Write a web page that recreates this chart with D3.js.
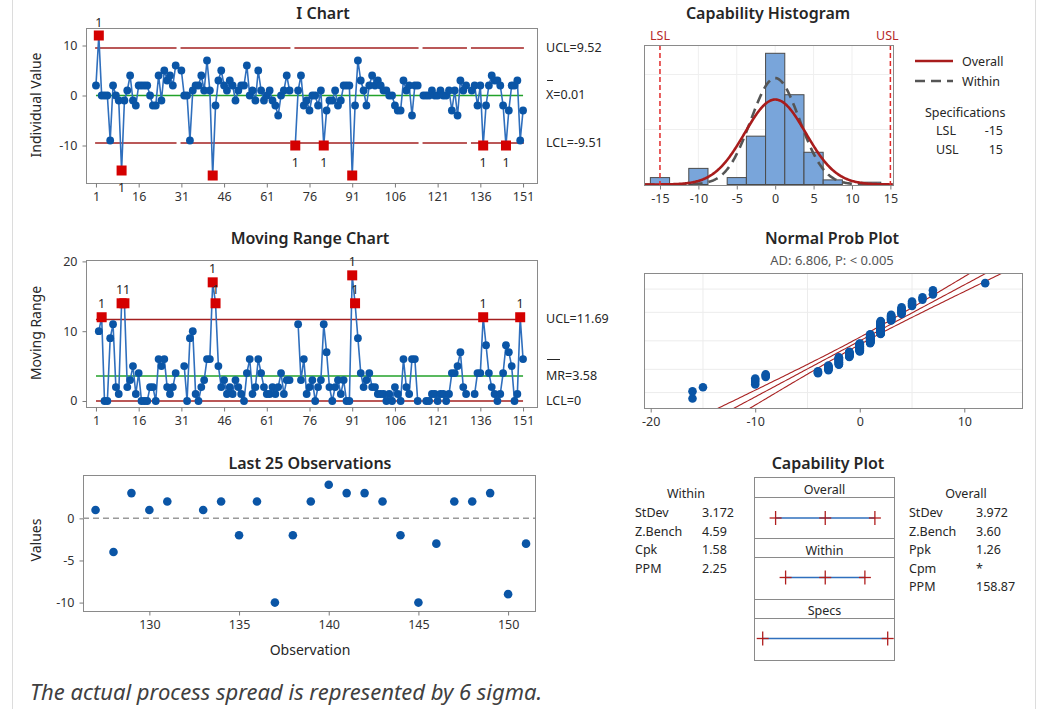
<!DOCTYPE html>
<head>
    <meta charset="utf-8">
    <title>Process Capability Sixpack</title>
    <style>
        body { margin: 0; background: #fff; }
        svg { display: block; font-family: "Noto Sans", "Open Sans", sans-serif; }
        .title { font-size: 16px; font-weight: 600; fill: #262626; text-anchor: middle; }
        .axis line { stroke: #7a7a7a; }
        .axis text { font-size: 12.5px; fill: #333; font-family: "Noto Sans", sans-serif; }
        .lbl { font-size: 12.5px; fill: #262626; }
        .ytitle { font-size: 14px; fill: #262626; text-anchor: middle; }
    </style>
</head>
<body>

<svg width="1043" height="709"></svg>

<script src="https://d3js.org/d3.v7.min.js"></script>

<script>

// ---- data ----
// individual observations 1..151 (null = missing value)
var individuals = [
    2, 12, 0, 0, 0, -9, 2, 0, -1, -15,
    -1, 1, 4, -1, -2, 2, 2, 2, 2, 0,
    -2, -2, 4, -1, 5, 3, 4, 2, 6, null,
    5, 0, 0, -9, 1, 2, 2, 4, 1, 7,
    1, -16, -2, 3, 5, 2, 1, 3, 2, -1,
    1, 2, 2, 6, 0, 1, -1, 5, 1, -1,
    0, 1, -1, -2, -4, 0, 1, 4, 1, null,
    -10, 1, 4, -2, -1, -3, 0, 0, -2, 1,
    -10, -3, -1, -1, 1, -2, -1, 2, 2, 2,
    -16, -2, 7, 3, 1, -2, 2, 4, 2, 3,
    2, 1, 1, 0, 0, -2, -3, -3, 3, 1,
    2, -4, 2, 2, null, 0, 0, 0, 1, 0,
    0, 1, 0, 0, 1, -3, 1, -4, 3, 1,
    2, null, 1, 2, -2, 2, -10, -2, 2, 4,
    3, 3, 2, -2, -10, -3, 2, 2, 3, -9,
    -3
];

var iLimits = [9.52, 0.01, -9.51];      // UCL, X-bar, LCL
var mrLimits = [11.69, 3.58, 0];        // UCL, MR-bar, LCL
var specLimits = [-15, 15];             // LSL, USL
var processMean = 0.01;
var withinSD = 3.172;
var overallSD = 3.972;

var obsTicks = [1, 16, 31, 46, 61, 76, 91, 106, 121, 136, 151];
var lastTicks = [130, 135, 140, 145, 150];
var histTicks = [-15, -10, -5, 0, 5, 10, 15];
var probTicks = [-20, -10, 0, 10];
var probGrid = [1, 10, 50, 90, 99];

var withinLabels = ['StDev', 'Z.Bench', 'Cpk', 'PPM'];
var withinValues = ['3.172', '4.59', '1.58', '2.25'];
var overallLabels = ['StDev', 'Z.Bench', 'Ppk', 'Cpm', 'PPM'];
var overallValues = ['3.972', '3.60', '1.26', '*', '158.87'];

// ---- colours ----
var blue = '#0a55a6',
    lineBlue = '#2f6fbd',
    limitRed = '#a32020',
    flagRed = '#d40000',
    green = '#22a22a',
    frameGrey = '#8a8a8a';

var svg = d3.select('svg');

// page border
svg.append('line').attr('x1', 12.5).attr('x2', 12.5).attr('y1', 0).attr('y2', 709).attr('stroke', '#dcdcdc');
svg.append('line').attr('x1', 1035.5).attr('x2', 1035.5).attr('y1', 0).attr('y2', 709).attr('stroke', '#dcdcdc');

var points = individuals.map((v, i) => ({obs: i + 1, v: v}));
var present = points.filter(d => d.v !== null);
var ranges = points.slice(1).map((d, i) => ({
    obs: d.obs,
    v: (d.v === null || points[i].v === null) ? null : Math.abs(d.v - points[i].v)
}));

function frame(b) {
    svg.append('rect')
        .attr('x', b.left + 0.5).attr('y', b.top + 0.5)
        .attr('width', b.right - b.left).attr('height', b.bottom - b.top)
        .attr('fill', 'none').attr('stroke', frameGrey);
}

function title(x, y, txt) {
    svg.append('text').attr('class', 'title').attr('x', x).attr('y', y).text(txt);
}

function yTitle(x, y, txt) {
    svg.append('text').attr('class', 'ytitle')
        .attr('transform', `translate(${x},${y}) rotate(-90)`).text(txt);
}

function xAxis(scale, y, ticks) {
    var g = svg.append('g').attr('class', 'axis').attr('transform', `translate(0,${y + 0.5})`)
        .call(d3.axisBottom(scale).tickValues(ticks).tickSize(4).tickSizeOuter(0).tickPadding(5)
            .tickFormat(d => String(d)));
    g.select('.domain').remove();
}

function yAxis(scale, x, ticks) {
    var g = svg.append('g').attr('class', 'axis').attr('transform', `translate(${x + 0.5},0)`)
        .call(d3.axisLeft(scale).tickValues(ticks).tickSize(4).tickSizeOuter(0).tickPadding(5)
            .tickFormat(d => String(d)));
    g.select('.domain').remove();
}

function clip(id, b) {
    svg.append('clipPath').attr('id', id).append('rect')
        .attr('x', b.left).attr('y', b.top).attr('width', b.right - b.left).attr('height', b.bottom - b.top);
}

// draw a connected series with blue dots and red squares for out-of-limit points
// flag labels that fall below the plot frame are hidden, as in the original
function controlSeries(data, x, y, isFlag, labelBelow, bottom) {
    svg.append('path')
        .datum(data)
        .attr('fill', 'none').attr('stroke', lineBlue).attr('stroke-width', 1.6)
        .attr('d', d3.line().defined(d => d.v !== null).x(d => x(d.obs)).y(d => y(d.v)));

    var ok = data.filter(d => d.v !== null);
    svg.append('g').selectAll('circle')
        .data(ok.filter(d => !isFlag(d)))
        .enter().append('circle')
            .attr('cx', d => x(d.obs)).attr('cy', d => y(d.v)).attr('r', 3.9)
            .attr('fill', blue);

    var flags = ok.filter(isFlag);
    svg.append('g').selectAll('rect')
        .data(flags)
        .enter().append('rect')
            .attr('x', d => x(d.obs) - 5).attr('y', d => y(d.v) - 5)
            .attr('width', 10).attr('height', 10)
            .attr('fill', flagRed);

    var labels = flags.map(d => ({
        x: x(d.obs),
        y: labelBelow(d) ? y(d.v) + 21 : y(d.v) - 9
    })).filter(l => l.y - 9 < bottom);

    // neighbouring labels sit side by side ("11")
    labels.forEach((l, i) => {
        var prev = labels[i - 1];
        if (prev && Math.abs(prev.y - l.y) < 2 && l.x - prev.x < 7) {
            var mid = (l.x + prev.x) / 2;
            prev.x = mid - 3.5;
            l.x = mid + 3.5;
        }
    });

    svg.append('g').selectAll('text')
        .data(labels)
        .enter().append('text')
            .attr('class', 'lbl').attr('text-anchor', 'middle')
            .attr('x', d => d.x).attr('y', d => d.y)
            .text('1');
}

// limit line broken at missing observations
function runs(data) {
    var out = [], cur = null;
    data.forEach(d => {
        if (d.v === null) { if (cur) out.push(cur); cur = null; }
        else if (!cur) cur = [d.obs, d.obs];
        else cur[1] = d.obs;
    });
    if (cur) out.push(cur);
    return out;
}

// ================= I Chart =================
var iBox = {left: 86, right: 537, top: 28, bottom: 183};
var iX = d3.scaleLinear().domain([-2.5, 155.9]).range([iBox.left, iBox.right]);
var iY = d3.scaleLinear().domain([-17.5, 13.5]).range([iBox.bottom, iBox.top]);

title(323, 19, 'I Chart');
yTitle(41, 105, 'Individual Value');
frame(iBox);
xAxis(iX, iBox.bottom, obsTicks);
yAxis(iY, iBox.left, [-10, 0, 10]);

runs(points).forEach(r => {
    [iLimits[0], iLimits[2]].forEach(lim => {
        svg.append('line')
            .attr('x1', iX(r[0] - 0.3)).attr('x2', iX(r[1] + 0.3))
            .attr('y1', iY(lim)).attr('y2', iY(lim))
            .attr('stroke', limitRed).attr('stroke-width', 1.5);
    });
});
svg.append('line')
    .attr('x1', iX(1)).attr('x2', iX(151))
    .attr('y1', iY(iLimits[1])).attr('y2', iY(iLimits[1]))
    .attr('stroke', green).attr('stroke-width', 1.5);

controlSeries(points, iX, iY, d => d.v > iLimits[0] || d.v < iLimits[2], d => d.v < iLimits[2], iBox.bottom);

svg.append('text').attr('class', 'lbl').attr('x', 546).attr('y', iY(iLimits[0]) + 4).text('UCL=9.52');
svg.append('line').attr('x1', 547).attr('x2', 553).attr('y1', 80.5).attr('y2', 80.5).attr('stroke', '#262626');
svg.append('text').attr('class', 'lbl').attr('x', 546).attr('y', iY(iLimits[1]) + 4).text('X=0.01');
svg.append('text').attr('class', 'lbl').attr('x', 546).attr('y', iY(iLimits[2]) + 4).text('LCL=-9.51');

// ================= Moving Range Chart =================
var mrBox = {left: 86, right: 537, top: 260, bottom: 407};
var mrY = d3.scaleLinear().domain([-0.86, 20.2]).range([mrBox.bottom, mrBox.top]);

title(310, 244, 'Moving Range Chart');
yTitle(41, 333, 'Moving Range');
frame(mrBox);
xAxis(iX, mrBox.bottom, obsTicks);
yAxis(mrY, mrBox.left, [0, 10, 20]);

mrLimits.forEach((lim, i) => {
    svg.append('line')
        .attr('x1', iX(1)).attr('x2', iX(151))
        .attr('y1', mrY(lim)).attr('y2', mrY(lim))
        .attr('stroke', i === 1 ? green : limitRed).attr('stroke-width', 1.5);
});

controlSeries(ranges, iX, mrY, d => d.v > mrLimits[0], () => false, mrBox.bottom);

svg.append('text').attr('class', 'lbl').attr('x', 546).attr('y', mrY(mrLimits[0]) + 4).text('UCL=11.69');
svg.append('line').attr('x1', 547).attr('x2', 560).attr('y1', 359.5).attr('y2', 359.5).attr('stroke', '#262626');
svg.append('text').attr('class', 'lbl').attr('x', 546).attr('y', mrY(mrLimits[1]) + 4).text('MR=3.58');
svg.append('text').attr('class', 'lbl').attr('x', 546).attr('y', mrY(mrLimits[2]) + 4).text('LCL=0');

// ================= Last 25 Observations =================
var lBox = {left: 83, right: 535, top: 475, bottom: 611};
var lX = d3.scaleLinear().domain([126.3, 151.5]).range([lBox.left, lBox.right]);
var lY = d3.scaleLinear().domain([-11.0, 5.15]).range([lBox.bottom, lBox.top]);
var last25 = points.slice(-25);

title(310, 469, 'Last 25 Observations');
yTitle(41, 540, 'Values');
frame(lBox);
xAxis(lX, lBox.bottom, lastTicks);
yAxis(lY, lBox.left, [-10, -5, 0]);

svg.append('line')
    .attr('x1', lBox.left).attr('x2', lBox.right)
    .attr('y1', lY(processMean)).attr('y2', lY(processMean))
    .attr('stroke', '#9a9a9a').attr('stroke-width', 1.5).attr('stroke-dasharray', '6,4');

svg.append('g').selectAll('circle')
    .data(last25.filter(d => d.v !== null))
    .enter().append('circle')
        .attr('cx', d => lX(d.obs)).attr('cy', d => lY(d.v)).attr('r', 4.3)
        .attr('fill', blue);

svg.append('text').attr('x', 310).attr('y', 655).attr('text-anchor', 'middle')
    .style('font-size', '14px').attr('fill', '#262626').text('Observation');

// ================= Capability Histogram =================
var hBox = {left: 644, right: 893, top: 45, bottom: 185};
var hX = d3.scaleLinear().domain([-17.08, 15.34]).range([hBox.left, hBox.right]);
var hY = d3.scaleLinear().domain([0, 60.6]).range([hBox.bottom - 0.5, hBox.top]);
var binWidth = 2.5;
var bins = d3.bin().domain([-16.25, 13.75]).thresholds(d3.range(-16.25, 13.76, binWidth))(present.map(d => d.v));
var nObs = present.length;

title(768, 19, 'Capability Histogram');
clip('hclip', hBox);

// light grid
svg.append('g').selectAll('line')
    .data([-10, -5, 0, 5, 10])
    .enter().append('line')
        .attr('x1', d => hX(d)).attr('x2', d => hX(d))
        .attr('y1', hBox.top).attr('y2', hBox.bottom)
        .attr('stroke', '#efefef');
svg.append('g').selectAll('line')
    .data([0.065, 0.13].map(p => p * nObs * binWidth))
    .enter().append('line')
        .attr('x1', hBox.left).attr('x2', hBox.right)
        .attr('y1', d => hY(d)).attr('y2', d => hY(d))
        .attr('stroke', '#efefef');

svg.append('g').selectAll('rect')
    .data(bins.filter(b => b.length > 0))
    .enter().append('rect')
        .attr('x', d => hX(d.x0)).attr('y', d => hY(d.length))
        .attr('width', d => hX(d.x1) - hX(d.x0)).attr('height', d => hY(0) - hY(d.length))
        .attr('fill', '#79a5da').attr('stroke', '#4a4a4a').attr('stroke-width', 1);

function normalPdf(z) { return Math.exp(-0.5 * z * z) / Math.sqrt(2 * Math.PI); }
var curveXs = d3.range(-17, 15.4, 0.1);
var curve = sd => d3.line()
    .x(x => hX(x))
    .y(x => hY(nObs * binWidth * normalPdf((x - processMean) / sd) / sd));

svg.append('path').datum(curveXs).attr('clip-path', 'url(#hclip)')
    .attr('fill', 'none').attr('stroke', '#555').attr('stroke-width', 2.6).attr('stroke-dasharray', '10,6')
    .attr('d', curve(withinSD));
svg.append('path').datum(curveXs).attr('clip-path', 'url(#hclip)')
    .attr('fill', 'none').attr('stroke', '#a81c1c').attr('stroke-width', 2.6)
    .attr('d', curve(overallSD));

specLimits.forEach((s, i) => {
    svg.append('line')
        .attr('x1', hX(s)).attr('x2', hX(s)).attr('y1', hBox.top).attr('y2', hBox.bottom)
        .attr('stroke', '#e02a2a').attr('stroke-width', 1.5).attr('stroke-dasharray', '5,3');
    svg.append('text').attr('class', 'lbl').attr('text-anchor', 'middle')
        .attr('x', hX(s) + (i ? -3 : 0)).attr('y', 40).style('fill', '#b52a2a')
        .text(i ? 'USL' : 'LSL');
});

frame(hBox);
xAxis(hX, hBox.bottom, histTicks);

// legend
svg.append('line').attr('x1', 915).attr('x2', 953).attr('y1', 61).attr('y2', 61)
    .attr('stroke', '#a81c1c').attr('stroke-width', 2.6);
svg.append('line').attr('x1', 915).attr('x2', 953).attr('y1', 81).attr('y2', 81)
    .attr('stroke', '#555').attr('stroke-width', 2.6).attr('stroke-dasharray', '10,6');
svg.append('text').attr('class', 'lbl').attr('x', 962).attr('y', 65.5).text('Overall');
svg.append('text').attr('class', 'lbl').attr('x', 962).attr('y', 85.5).text('Within');
svg.append('text').attr('class', 'lbl').attr('x', 925).attr('y', 117).text('Specifications');
['LSL', 'USL'].forEach((s, i) => {
    svg.append('text').attr('class', 'lbl').attr('x', 936).attr('y', 135 + i * 18.5).text(s);
    svg.append('text').attr('class', 'lbl').attr('x', 1003).attr('text-anchor', 'end')
        .attr('y', 135 + i * 18.5).text(String(specLimits[i]));
});

// ================= Normal Prob Plot =================
var pBox = {left: 644, right: 1022, top: 273, bottom: 408};
var pX = d3.scaleLinear().domain([-20.64, 15.52]).range([pBox.left, pBox.right]);
var pY = d3.scaleLinear().domain([-3.02, 3.05]).range([pBox.bottom, pBox.top]);

// inverse standard normal (Acklam)
function normInv(p) {
    var a = [-39.69683028665376, 220.9460984245205, -275.9285104469687, 138.3577518672690, -30.66479806614716, 2.506628277459239],
        b = [-54.47609879822406, 161.5858368580409, -155.6989798598866, 66.80131188771972, -13.28068155288572],
        c = [-0.007784894002430293, -0.3223964580411365, -2.400758277161838, -2.549732539343734, 4.374664141464968, 2.938163982698783],
        d = [0.007784695709041462, 0.3224671290700398, 2.445134137142996, 3.754408661907416];
    var q, r;
    if (p < 0.02425) {
        q = Math.sqrt(-2 * Math.log(p));
        return (((((c[0]*q+c[1])*q+c[2])*q+c[3])*q+c[4])*q+c[5]) / ((((d[0]*q+d[1])*q+d[2])*q+d[3])*q+1);
    }
    if (p > 1 - 0.02425) {
        q = Math.sqrt(-2 * Math.log(1 - p));
        return -(((((c[0]*q+c[1])*q+c[2])*q+c[3])*q+c[4])*q+c[5]) / ((((d[0]*q+d[1])*q+d[2])*q+d[3])*q+1);
    }
    q = p - 0.5; r = q * q;
    return (((((a[0]*r+a[1])*r+a[2])*r+a[3])*r+a[4])*r+a[5])*q / (((((b[0]*r+b[1])*r+b[2])*r+b[3])*r+b[4])*r+1);
}

title(832, 244, 'Normal Prob Plot');
svg.append('text').attr('x', 832).attr('y', 265).attr('text-anchor', 'middle')
    .style('font-size', '13px').attr('fill', '#555').text('AD: 6.806, P: < 0.005');
clip('pclip', pBox);

svg.append('g').selectAll('line')
    .data([-15, -5, 5])
    .enter().append('line')
        .attr('x1', d => pX(d)).attr('x2', d => pX(d)).attr('y1', pBox.top).attr('y2', pBox.bottom)
        .attr('stroke', '#ececec');
svg.append('g').selectAll('line')
    .data(probGrid)
    .enter().append('line')
        .attr('x1', pBox.left).attr('x2', pBox.right)
        .attr('y1', d => pY(normInv(d / 100))).attr('y2', d => pY(normInv(d / 100)))
        .attr('stroke', '#ececec');

// fitted line and 95% confidence bands
var zs = d3.range(-3.3, 3.31, 0.05);
[-1, 0, 1].forEach(k => {
    svg.append('path').datum(zs).attr('clip-path', 'url(#pclip)')
        .attr('fill', 'none').attr('stroke', '#a82222').attr('stroke-width', 1.1)
        .attr('d', d3.line()
            .x(z => pX(processMean + z * overallSD
                + k * 1.96 * overallSD * Math.sqrt(1 / nObs + z * z / (2 * (nObs - 1)))))
            .y(z => pY(z)));
});

var sorted = present.map(d => d.v).sort(d3.ascending);
svg.append('g').selectAll('circle')
    .data(sorted)
    .enter().append('circle')
        .attr('cx', d => pX(d))
        .attr('cy', (d, i) => pY(normInv((i + 1 - 0.3) / (nObs + 0.4))))
        .attr('r', 4.3)
        .attr('fill', blue);

frame(pBox);
xAxis(pX, pBox.bottom, probTicks);

// ================= Capability Plot =================
title(828, 469, 'Capability Plot');
var cX = d3.scaleLinear().domain(specLimits).range([762.7, 887.7]);
var cBox = {left: 754, right: 894, top: 477, bottom: 660};
frame(cBox);
[497, 538, 557, 599, 618].forEach(y => {
    svg.append('line').attr('x1', cBox.left).attr('x2', cBox.right + 1)
        .attr('y1', y + 0.5).attr('y2', y + 0.5).attr('stroke', frameGrey);
});

var intervals = [
    {name: 'Overall', head: 494, y: 518, ends: [processMean - 3 * overallSD, processMean, processMean + 3 * overallSD]},
    {name: 'Within', head: 555, y: 577.5, ends: [processMean - 3 * withinSD, processMean, processMean + 3 * withinSD]},
    {name: 'Specs', head: 615, y: 638.5, ends: specLimits}
];
intervals.forEach(iv => {
    svg.append('text').attr('class', 'lbl').attr('text-anchor', 'middle')
        .attr('x', 824.5).attr('y', iv.head).text(iv.name);
    svg.append('line')
        .attr('x1', cX(d3.min(iv.ends))).attr('x2', cX(d3.max(iv.ends)))
        .attr('y1', iv.y).attr('y2', iv.y)
        .attr('stroke', lineBlue).attr('stroke-width', 1.6);
    iv.ends.forEach(e => {
        svg.append('line').attr('x1', cX(e) - 6).attr('x2', cX(e) + 6).attr('y1', iv.y).attr('y2', iv.y)
            .attr('stroke', '#b01e1e').attr('stroke-width', 1.3);
        svg.append('line').attr('x1', cX(e)).attr('x2', cX(e)).attr('y1', iv.y - 7).attr('y2', iv.y + 7)
            .attr('stroke', '#b01e1e').attr('stroke-width', 1.3);
    });
});

function statsTable(x0, x1, xTitle, head, labels, values) {
    svg.append('text').attr('class', 'lbl').attr('text-anchor', 'middle')
        .attr('x', xTitle).attr('y', 498).text(head);
    labels.forEach((l, i) => {
        svg.append('text').attr('class', 'lbl').attr('x', x0).attr('y', 517 + i * 18.5).text(l);
        svg.append('text').attr('class', 'lbl').attr('x', x1).attr('y', 517 + i * 18.5).text(values[i]);
    });
}
statsTable(635, 702, 686, 'Within', withinLabels, withinValues);
statsTable(909, 976, 966, 'Overall', overallLabels, overallValues);

// footnote
svg.append('text').attr('x', 30).attr('y', 700)
    .style('font-size', '22px').style('font-style', 'italic').attr('fill', '#404040')
    .text('The actual process spread is represented by 6 sigma.');

</script>

</body>
